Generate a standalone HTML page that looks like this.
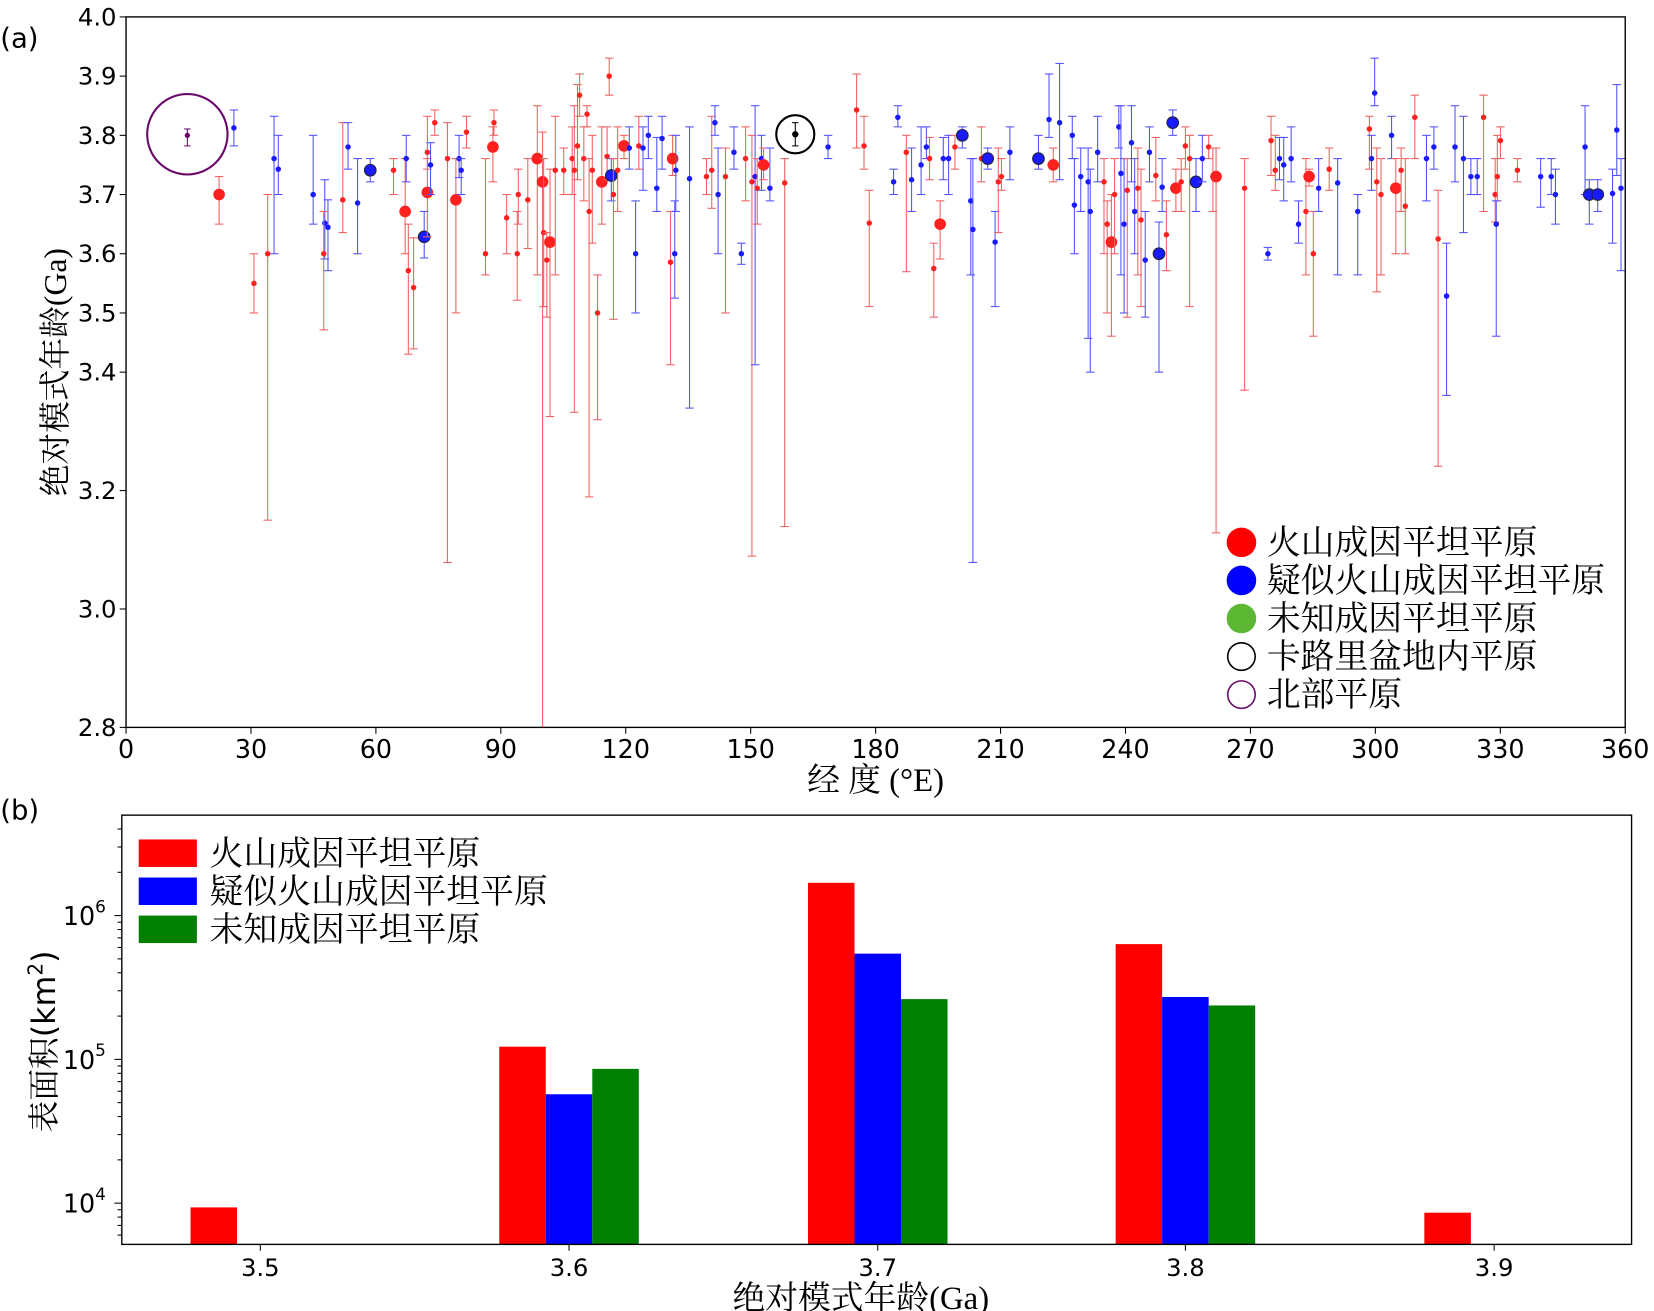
<!DOCTYPE html>
<html><head><meta charset="utf-8"><style>
html,body{margin:0;padding:0;background:#fff;}
svg{display:block;}
text{font-family:"DejaVu Sans","Liberation Sans",sans-serif;fill:#000;}
.cj{font-family:"Liberation Serif","Noto Serif CJK SC","Noto Sans CJK SC",serif;}
</style></head><body>
<svg id="s" width="1654" height="1311" viewBox="0 0 1564 1240" xmlns="http://www.w3.org/2000/svg">
<rect width="1564" height="1240" fill="#fff"/>
<g id="pts"></g>
<rect x="119" y="16" width="1418" height="672" fill="none" stroke="#000" stroke-width="1.3"/>
<g id="axa"></g>
<text x="0" y="45" font-size="26">(a)</text>
<text class="cj" x="828" y="748" font-size="31" text-anchor="middle">经 度 (°E)</text>
<text class="cj" transform="translate(62,352) rotate(-90)" font-size="30" text-anchor="middle">绝对模式年龄(Ga)</text>
<circle cx="1174" cy="513" r="14" fill="#f00"/>
<circle cx="1174" cy="549" r="14" fill="#00f"/>
<circle cx="1174" cy="585" r="14" fill="#5cb832"/>
<circle cx="1174" cy="621" r="13" fill="none" stroke="#000" stroke-width="1.5"/>
<circle cx="1174" cy="657" r="13" fill="none" stroke="#6a0a6a" stroke-width="1.5"/>
<g font-size="32">
<text class="cj" x="1198" y="524">火山成因平坦平原</text>
<text class="cj" x="1198" y="560">疑似火山成因平坦平原</text>
<text class="cj" x="1198" y="596">未知成因平坦平原</text>
<text class="cj" x="1198" y="632">卡路里盆地内平原</text>
<text class="cj" x="1198" y="668">北部平原</text>
</g>
<circle cx="177" cy="127" r="38" fill="none" stroke="#6a0a6a" stroke-width="2"/>
<line x1="177" y1="122" x2="177" y2="138" stroke="#6a0a6a"/><line x1="174" y1="122" x2="180" y2="122" stroke="#6a0a6a"/><line x1="174" y1="138" x2="180" y2="138" stroke="#6a0a6a"/><circle cx="177" cy="128" r="2.5" fill="#6a0a6a"/>
<circle cx="752" cy="127" r="18" fill="none" stroke="#000" stroke-width="2"/>
<line x1="752" y1="116" x2="752" y2="138" stroke="#000"/><line x1="749" y1="116" x2="755" y2="116" stroke="#000"/><line x1="749" y1="138" x2="755" y2="138" stroke="#000"/><circle cx="752" cy="127" r="3" fill="#000"/>

<g id="bars"></g>
<rect x="115" y="771" width="1428" height="406" fill="none" stroke="#000" stroke-width="1.3"/>
<g id="axb"></g>
<text x="0" y="775" font-size="26">(b)</text>
<rect x="131" y="794" width="55" height="26" fill="#f00"/>
<rect x="131" y="830" width="55" height="26" fill="#00f"/>
<rect x="131" y="866" width="55" height="26" fill="#007f00"/>
<text class="cj" x="198" y="818" font-size="32">火山成因平坦平原</text>
<text class="cj" x="198" y="854" font-size="32">疑似火山成因平坦平原</text>
<text class="cj" x="198" y="890" font-size="32">未知成因平坦平原</text>
<text class="cj" x="814" y="1238" font-size="31" text-anchor="middle">绝对模式年龄(Ga)</text>
<text transform="translate(52,985) rotate(-90)" font-size="30" text-anchor="middle"><tspan class="cj">表面积</tspan>(km<tspan font-size="19" dy="-12">2</tspan><tspan dy="12">)</tspan></text>
</svg>
<script>
var NS="http://www.w3.org/2000/svg";
function el(p,t,a,txt){var e=document.createElementNS(NS,t);for(var k in a)e.setAttribute(k,a[k]);if(txt!==undefined)e.textContent=txt;p.appendChild(e);return e;}
var axa=document.getElementById("axa");
for(var i=0;i<=12;i++){var x=119+i*1418/12;el(axa,"line",{x1:x,y1:688,x2:x,y2:694,stroke:"#000"});el(axa,"text",{x:x,y:717,"font-size":24,"text-anchor":"middle"},String(i*30));}
[4.0,3.9,3.8,3.7,3.6,3.5,3.4,3.2,3.0,2.8].forEach(function(v){var y=16+(4.0-v)*560;el(axa,"line",{x1:113,y1:y,x2:119,y2:y,stroke:"#000"});el(axa,"text",{x:110,y:y+8,"font-size":23,"text-anchor":"end"},v.toFixed(1));});
var D=[
[207,184,167,212,'r',1],[221,121,104,138,'b',0],[240,268,240,296,'r',0],[253,240,184,492,'r',0],[259,150,110,240,'b',0],[263,160,128,184,'b',0],
[296,184,128,212,'b',0],[307,211,170,245,'b',0],[310,215,189,256,'b',0],[306,240,200,312,'r',0],[324,189,116,220,'r',0],[329,139,116,160,'b',0],[338,192,150,240,'b',0],[350,161,150,172,'b',1],
[372,161,150,184,'r',0],[383,200,150,240,'r',1],[384,150,128,172,'b',0],[386,256,212,335,'r',0],[391,272,225,330,'r',0],[401,224,200,244,'b',1],[404,182,150,224,'r',1],[404,144,110,160,'r',0],[407,156,135,184,'b',0],[411,116,104,128,'r',0],[423,150,116,532,'r',0],[431,189,150,296,'r',1],[434,150,128,168,'b',0],[436,161,150,184,'b',0],[441,125,110,140,'r',0],
[459,240,150,260,'r',0],[466,139,120,172,'r',1],[467,116,104,128,'r',0],[479,206,184,240,'r',0],[489,240,200,284,'r',0],[490,184,160,212,'r',0],[499,189,150,235,'r',0],
[508,150,100,260,'r',1],[513,172,125,688,'r',1],[514,220,150,290,'r',0],[517,246,220,300,'r',0],[520,229,160,394,'r',1],[525,161,110,260,'r',0],[533,161,140,184,'r',0],[541,150,120,184,'r',0],[543,161,100,390,'r',0],[546,138,80,170,'r',0],[548,90,70,110,'r',0],
[552,150,120,190,'r',0],[555,108,100,120,'r',0],[557,200,150,470,'r',0],[560,161,128,230,'r',0],[565,296,260,397,'r',0],[569,172,120,212,'r',1],[574,148,120,170,'r',0],[576,72,55,90,'r',0],[578,166,150,190,'b',1],[580,184,150,302,'r',0],[584,161,120,200,'r',0],
[590,138,128,150,'r',1],[595,140,120,160,'b',0],[601,240,190,296,'b',0],[604,138,110,160,'r',0],[608,140,120,180,'b',0],[613,128,110,150,'b',0],[621,178,130,200,'b',0],[626,131,110,160,'b',0],[634,248,200,345,'r',0],[636,150,128,166,'r',1],[638,240,190,282,'b',0],[639,161,128,200,'b',0],[652,169,120,386,'b',0],
[668,167,150,184,'r',0],[673,161,110,197,'r',0],[676,116,100,128,'b',0],[679,184,140,240,'b',0],[686,167,140,296,'r',0],[694,144,120,160,'b',0],[701,240,230,250,'b',0],[705,150,120,190,'r',0],[711,172,128,526,'r',0],[714,167,100,345,'b',0],[716,178,150,212,'r',0],[720,150,128,180,'b',0],[722,156,140,170,'r',1],[728,178,140,190,'b',0],[742,173,150,498,'r',0],[783,139,128,150,'b',0],
[810,104,70,140,'r',0],[817,138,110,160,'r',0],[822,211,180,290,'r',0],[849,111,100,120,'b',0],[845,172,160,184,'b',0],[857,144,128,257,'r',0],[862,170,140,200,'b',0],[871,156,120,184,'b',0],[876,139,120,150,'b',0],[879,150,130,170,'r',0],[883,254,230,300,'r',0],[889,212,190,245,'r',1],[892,150,130,170,'b',0],[897,150,128,184,'b',0],[903,139,128,160,'r',0],[910,128,120,140,'b',1],[918,190,150,260,'b',0],[920,217,150,532,'b',0],[928,150,120,172,'r',0],[934,150,140,160,'b',1],[941,229,200,290,'b',0],[944,172,140,220,'r',0],[947,167,150,180,'r',0],[955,144,120,170,'b',0],
[982,150,128,160,'b',1],[996,156,140,172,'r',1],[992,113,70,130,'b',0],[1002,116,60,170,'b',0],[1014,128,110,150,'b',0],[1016,194,150,240,'b',0],[1022,167,140,200,'b',0],[1029,172,140,320,'b',0],[1031,200,160,352,'b',0],[1038,144,110,172,'b',0],[1044,172,150,240,'r',0],[1047,212,190,296,'r',0],[1051,229,184,318,'r',1],[1054,184,150,240,'r',0],[1058,120,100,140,'b',0],[1060,164,100,260,'b',0],[1063,212,150,296,'b',0],[1066,180,150,300,'r',0],[1070,135,100,172,'b',0],[1073,200,150,240,'b',0],[1076,178,140,260,'r',0],[1079,208,160,290,'r',0],[1083,246,200,300,'b',0],[1087,144,120,172,'b',0],[1093,166,130,190,'r',0],[1096,240,210,352,'b',1],[1099,177,150,200,'b',0],[1103,222,190,256,'r',0],[1109,116,104,128,'b',1],[1112,178,160,200,'r',1],[1117,172,150,200,'r',0],[1121,138,120,160,'r',0],[1125,150,128,290,'r',0],[1131,172,150,200,'b',1],[1137,150,128,172,'b',0],[1143,139,128,150,'r',0],[1147,167,140,200,'r',0],[1150,167,140,504,'r',1],
[1177,178,150,369,'r',0],[1199,240,234,246,'b',0],[1202,133,110,166,'r',0],[1206,161,128,180,'r',0],[1210,150,130,170,'b',0],[1214,156,130,190,'b',0],[1221,150,120,172,'b',0],[1228,212,190,230,'b',0],[1235,200,150,260,'r',0],[1238,167,160,176,'r',1],[1242,240,200,318,'r',0],[1247,178,150,200,'b',0],[1257,160,140,180,'r',0],[1265,173,150,260,'b',0],[1284,200,184,260,'b',0],[1295,122,110,160,'r',0],[1297,150,128,180,'b',0],[1300,88,55,100,'b',0],[1302,172,140,276,'r',0],[1306,184,150,260,'r',0],[1316,128,110,150,'b',0],[1320,178,150,240,'r',1],[1325,161,140,200,'r',0],[1329,195,150,240,'r',0],[1338,111,90,150,'r',0],[1349,150,128,190,'b',0],[1356,139,120,160,'b',0],[1360,226,180,441,'r',0],[1368,280,230,374,'b',0],[1376,139,100,172,'b',0],[1384,150,110,220,'b',0],[1391,167,150,184,'b',0],[1397,167,150,184,'b',0],[1403,111,90,200,'r',0],[1414,184,150,210,'r',0],[1416,167,128,190,'r',0],[1415,212,190,318,'b',0],[1419,133,120,150,'r',0],[1435,161,150,172,'r',0],[1457,167,150,196,'b',0],[1467,167,150,184,'b',0],[1471,184,160,212,'b',0],[1499,139,100,184,'b',0],[1503,184,170,212,'b',1],[1511,184,170,200,'b',1],[1525,183,160,230,'b',0],[1529,123,80,166,'b',0],[1533,178,150,256,'b',0]
];
var g=document.getElementById("pts");
D.forEach(function(d){var col=d[4]=='r'?'#ff2020':'#1a1aff';var lc=d[4]=='r'?'#f06060':'#5050ff';
el(g,"line",{x1:d[0],y1:d[2],x2:d[0],y2:d[3],stroke:lc,"stroke-width":1});
el(g,"line",{x1:d[0]-4,y1:d[2],x2:d[0]+4,y2:d[2],stroke:lc,"stroke-width":1});
el(g,"line",{x1:d[0]-4,y1:d[3],x2:d[0]+4,y2:d[3],stroke:lc,"stroke-width":1});
el(g,"circle",{cx:d[0],cy:d[1],r:d[5]?5.5:2.6,fill:col,stroke:d[5]&&d[4]=='b'?'#223':'none'});});
var axb=document.getElementById("axb");
function ly(v){return 1002-(Math.log10(v)-5)*136;}
[[6,866],[5,1002],[4,1138]].forEach(function(a){el(axb,"line",{x1:108,y1:a[1],x2:115,y2:a[1],stroke:"#000"});var t=el(axb,"text",{x:100,y:a[1]+9,"font-size":24,"text-anchor":"end"});t.innerHTML='10<tspan font-size="16" dy="-12">'+a[0]+'</tspan>';});
for(var e=3;e<=6;e++)for(var m=2;m<=9;m++){var y=ly(m*Math.pow(10,e));if(y>771&&y<1177)el(axb,"line",{x1:111,y1:y,x2:115,y2:y,stroke:"#000"});}
var cx=[246,538,830,1121,1413],lab=["3.5","3.6","3.7","3.8","3.9"];
cx.forEach(function(x,i){el(axb,"line",{x1:x,y1:1177,x2:x,y2:1183,stroke:"#000"});el(axb,"text",{x:x,y:1207,"font-size":23,"text-anchor":"middle"},lab[i]);});
var bars=document.getElementById("bars");
var H=[[1142,null,null],[990,1035,1011],[835,902,945],[893,943,951],[1147,null,null]];
var C=['#ff0000','#0000ff','#007f00'];
cx.forEach(function(x,i){for(var k=0;k<3;k++){if(H[i][k]==null)continue;el(bars,"rect",{x:x-66+k*44,y:H[i][k],width:44,height:1177-H[i][k],fill:C[k]});}});
</script>
</body></html>
